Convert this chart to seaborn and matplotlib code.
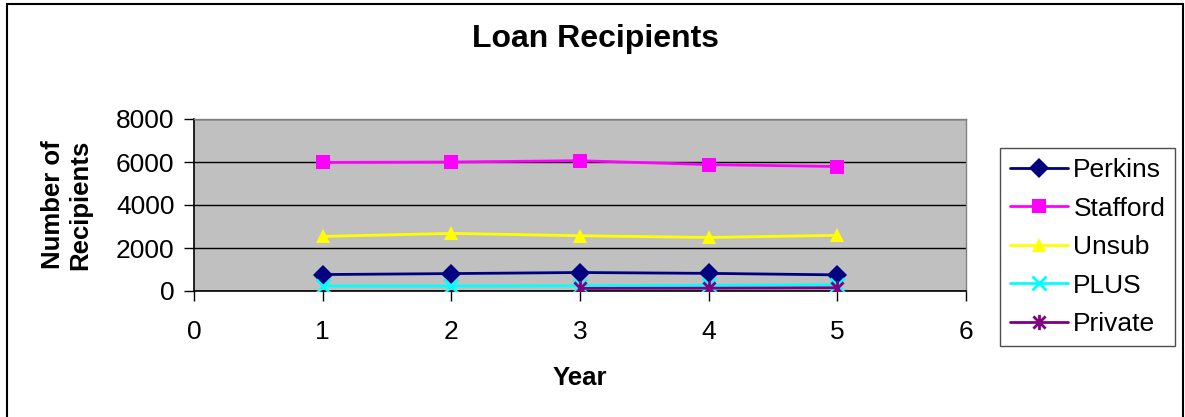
import numpy as np
import pandas as pd
import seaborn as sns
import matplotlib
matplotlib.use("Agg")
import matplotlib.pyplot as plt
from matplotlib.path import Path
from matplotlib.patches import Rectangle

# Data
years = [1, 2, 3, 4, 5]
perkins = [765, 810, 860, 820, 750]
stafford = [5980, 6000, 6060, 5880, 5790]
unsub = [2540, 2680, 2570, 2490, 2590]
plus = [230, 230, 240, 260, 290]
private = [np.nan, np.nan, 120, 130, 150]

series_names = ["Perkins", "Stafford", "Unsub", "PLUS", "Private"]
series_values = [perkins, stafford, unsub, plus, private]
series_colors = ["#000080", "#FF00FF", "#FFFF00", "#00FFFF", "#800080"]

x_ticks = [0, 1, 2, 3, 4, 5, 6]
y_ticks = [0, 2000, 4000, 6000, 8000]

# Asterisk marker: vertical bar plus two diagonals
star = Path(
    [(0, -1), (0, 1), (-0.8, -0.8), (0.8, 0.8), (-0.8, 0.8), (0.8, -0.8)],
    [Path.MOVETO, Path.LINETO, Path.MOVETO, Path.LINETO, Path.MOVETO, Path.LINETO],
)
markers = ["D", "s", "^", "x", star]
msizes = [10, 10, 10.5, 10, 11]
mews = [0, 0, 0, 2, 2]

sns.set_style("ticks")
plt.rcParams["font.family"] = ["Liberation Sans", "DejaVu Sans"]
plt.rcParams["text.color"] = "#000000"
plt.rcParams["axes.labelcolor"] = "#000000"
plt.rcParams["xtick.color"] = "#000000"
plt.rcParams["ytick.color"] = "#000000"

fig = plt.figure(figsize=(11.85, 4.17), dpi=100)
ax = fig.add_axes([194 / 1185, 1 - 291 / 417, (966 - 194) / 1185, (291 - 119) / 417])
ax.set_facecolor("#C0C0C0")

df = pd.DataFrame({"Year": years})
for name, vals, col, mk, ms, mew in zip(series_names, series_values, series_colors,
                                         markers, msizes, mews):
    df[name] = vals
    sub = df[["Year", name]].dropna()
    sns.lineplot(data=sub, x="Year", y=name, ax=ax, color=col, linewidth=2,
                 marker=mk, markersize=ms, markeredgewidth=mew,
                 markeredgecolor=col, markerfacecolor=col, label=name,
                 legend=False, zorder=3)

ax.set_xlim(0, 6)
ax.set_ylim(0, 8000)
ax.set_xticks(x_ticks)
ax.set_yticks(y_ticks)
ax.set_xticklabels([str(t) for t in x_ticks])
ax.set_yticklabels([str(t) for t in y_ticks])
ax.yaxis.grid(True, color="#000000", linewidth=1)
ax.set_axisbelow(True)
ax.tick_params(axis="both", direction="out", length=7, width=1, color="#000000",
               labelcolor="#000000", labelsize=19, bottom=True, left=True)
ax.tick_params(axis="x", pad=14)
ax.tick_params(axis="y", pad=7)
for side in ["left", "bottom"]:
    ax.spines[side].set_color("#000000")
    ax.spines[side].set_linewidth(1.2)
for side in ["top", "right"]:
    ax.spines[side].set_visible(True)
    ax.spines[side].set_color("#808080")
    ax.spines[side].set_linewidth(1)

ax.set_xlabel("Year", fontsize=18.5, fontweight="bold", labelpad=16)
ax.set_ylabel("Number of\nRecipients", fontsize=18.5, fontweight="bold", labelpad=17,
              linespacing=1.2)

fig.text(595 / 1185, 1 - 39 / 417, "Loan Recipients", fontsize=23,
         fontweight="bold", ha="center", va="center")

handles, labels = ax.get_legend_handles_labels()
leg = fig.legend(handles, labels, loc="upper left",
                 bbox_to_anchor=(1000 / 1185, 1 - 148 / 417),
                 frameon=True, fancybox=False, fontsize=19, handlelength=2.2,
                 handletextpad=0.2, labelspacing=0.55, borderpad=0.38,
                 borderaxespad=0)
leg.get_frame().set_edgecolor("#202020")
leg.get_frame().set_linewidth(1)

# Outer chart border
fig.patches.append(Rectangle((7 / 1185, -0.02), 1176 / 1185, 1 - 4 / 417 + 0.02,
                             transform=fig.transFigure, fill=False,
                             edgecolor="#000000", linewidth=1.5))

fig.savefig("out.png", dpi=100)
